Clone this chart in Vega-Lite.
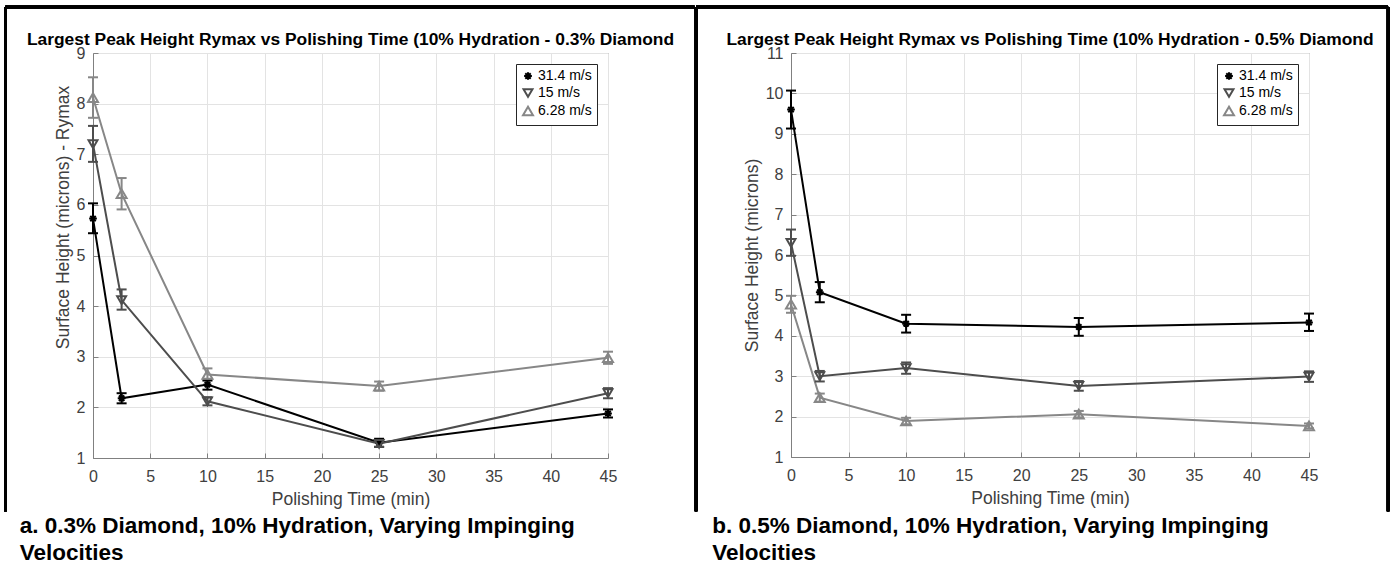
{
  "$schema": "https://vega.github.io/schema/vega-lite/v6.json",
  "padding": {"left": 3, "top": 5, "right": 0, "bottom": 0},
  "background": "white",
  "spacing": -3,
  "resolve": {"scale": {"color": "independent", "shape": "independent", "size": "independent"}, "legend": {"color": "independent"}},
  "datasets": {
    "a": [
      {"t": 0, "v": 5.73, "lo": 5.44, "hi": 6.03, "s": "31.4 m/s"},
      {"t": 2.5, "v": 2.18, "lo": 2.08, "hi": 2.28, "s": "31.4 m/s"},
      {"t": 10, "v": 2.45, "lo": 2.35, "hi": 2.53, "s": "31.4 m/s"},
      {"t": 25, "v": 1.30, "lo": 1.22, "hi": 1.38, "s": "31.4 m/s"},
      {"t": 45, "v": 1.88, "lo": 1.80, "hi": 1.96, "s": "31.4 m/s"},
      {"t": 0, "v": 7.20, "lo": 6.85, "hi": 7.56, "s": "15 m/s"},
      {"t": 2.5, "v": 4.12, "lo": 3.93, "hi": 4.33, "s": "15 m/s"},
      {"t": 10, "v": 2.12, "lo": 2.04, "hi": 2.20, "s": "15 m/s"},
      {"t": 25, "v": 1.28, "lo": 1.22, "hi": 1.34, "s": "15 m/s"},
      {"t": 45, "v": 2.28, "lo": 2.18, "hi": 2.38, "s": "15 m/s"},
      {"t": 0, "v": 8.12, "lo": 7.72, "hi": 8.52, "s": "6.28 m/s"},
      {"t": 2.5, "v": 6.22, "lo": 5.91, "hi": 6.53, "s": "6.28 m/s"},
      {"t": 10, "v": 2.65, "lo": 2.55, "hi": 2.77, "s": "6.28 m/s"},
      {"t": 25, "v": 2.42, "lo": 2.33, "hi": 2.51, "s": "6.28 m/s"},
      {"t": 45, "v": 2.98, "lo": 2.86, "hi": 3.10, "s": "6.28 m/s"}
    ],
    "b": [
      {"t": 0, "v": 9.60, "lo": 9.13, "hi": 10.07, "s": "31.4 m/s"},
      {"t": 2.5, "v": 5.08, "lo": 4.83, "hi": 5.33, "s": "31.4 m/s"},
      {"t": 10, "v": 4.30, "lo": 4.08, "hi": 4.52, "s": "31.4 m/s"},
      {"t": 25, "v": 4.22, "lo": 4.00, "hi": 4.44, "s": "31.4 m/s"},
      {"t": 45, "v": 4.33, "lo": 4.12, "hi": 4.55, "s": "31.4 m/s"},
      {"t": 0, "v": 6.30, "lo": 5.98, "hi": 6.63, "s": "15 m/s"},
      {"t": 2.5, "v": 3.00, "lo": 2.87, "hi": 3.13, "s": "15 m/s"},
      {"t": 10, "v": 3.20, "lo": 3.06, "hi": 3.34, "s": "15 m/s"},
      {"t": 25, "v": 2.76, "lo": 2.64, "hi": 2.88, "s": "15 m/s"},
      {"t": 45, "v": 2.99, "lo": 2.86, "hi": 3.12, "s": "15 m/s"},
      {"t": 0, "v": 4.78, "lo": 4.57, "hi": 4.99, "s": "6.28 m/s"},
      {"t": 2.5, "v": 2.47, "lo": 2.37, "hi": 2.57, "s": "6.28 m/s"},
      {"t": 10, "v": 1.89, "lo": 1.81, "hi": 1.97, "s": "6.28 m/s"},
      {"t": 25, "v": 2.06, "lo": 1.98, "hi": 2.14, "s": "6.28 m/s"},
      {"t": 45, "v": 1.77, "lo": 1.71, "hi": 1.83, "s": "6.28 m/s"}
    ]
  },
  "config": {
    "font": "Liberation Sans",
    "view": {"stroke": "#808080", "strokeWidth": 1},
    "axis": {
      "labelFont": "Liberation Sans", "titleFont": "Liberation Sans",
      "labelFontSize": 16, "titleFontSize": 17.5, "titleFontWeight": "normal",
      "labelColor": "#404040", "titleColor": "#404040",
      "domainColor": "#808080", "tickColor": "#808080", "gridColor": "#e3e3e3",
      "tickSize": -5, "labelPadding": 13
    },
    "axisX": {"labelPadding": 15, "titlePadding": 6},
    "title": {"font": "Liberation Sans", "fontSize": 17.4, "fontWeight": "bold", "color": "#000000", "frame": "group", "offset": -43}
  },
  "hconcat": [
    {
      "title": {"text": ["a. 0.3% Diamond, 10% Hydration, Varying Impinging", "Velocities"], "orient": "bottom", "anchor": "start", "frame": "bounds", "fontSize": 22.5, "lineHeight": 27, "offset": 2, "dx": 16},
      "resolve": {"scale": {"color": "independent", "shape": "independent", "size": "independent"}, "legend": {"color": "independent"}},
      "vconcat": [
        {
          "width": 515, "height": 405,
          "title": {"text": "Largest Peak Height Rymax vs Polishing Time (10% Hydration - 0.3% Diamond"},
          "data": {"name": "a"},
          "encoding": {
            "color": {"field": "s", "type": "nominal", "scale": {"domain": ["31.4 m/s", "15 m/s", "6.28 m/s"], "range": ["#000000", "#4d4d4d", "#878787"]},
              "legend": {"title": null, "orient": "top-right", "offset": 11, "strokeColor": "#262626", "fillColor": "white", "padding": 5, "labelFont": "Liberation Sans", "labelFontSize": 14, "labelColor": "#000000", "symbolStrokeWidth": 2, "rowPadding": 1, "labelOffset": 3}}
          },
          "layer": [
            {"mark": {"type": "line", "strokeWidth": 2}, "encoding": {
              "x": {"field": "t", "type": "quantitative", "scale": {"domain": [0, 45], "nice": false}, "axis": {"title": "Polishing Time (min)", "values": [0, 5, 10, 15, 20, 25, 30, 35, 40, 45], "labelFlush": false}},
              "y": {"field": "v", "type": "quantitative", "scale": {"domain": [1, 9], "nice": false}, "axis": {"title": "Surface Height (microns)  - Rymax", "values": [1, 2, 3, 4, 5, 6, 7, 8, 9], "titleY": 164}}
            }},
            {"mark": {"type": "rule", "strokeWidth": 2}, "encoding": {"x": {"field": "t", "type": "quantitative"}, "y": {"field": "lo", "type": "quantitative"}, "y2": {"field": "hi"}}},
            {"mark": {"type": "rule", "strokeWidth": 2, "xOffset": -5, "x2Offset": 5}, "encoding": {"x": {"field": "t", "type": "quantitative"}, "x2": {"field": "t"}, "y": {"field": "lo", "type": "quantitative"}}},
            {"mark": {"type": "rule", "strokeWidth": 2, "xOffset": -5, "x2Offset": 5}, "encoding": {"x": {"field": "t", "type": "quantitative"}, "x2": {"field": "t"}, "y": {"field": "hi", "type": "quantitative"}}},
            {"mark": {"type": "point", "filled": false, "strokeWidth": 2, "opacity": 1}, "encoding": {
              "x": {"field": "t", "type": "quantitative"},
              "y": {"field": "v", "type": "quantitative"},
              "shape": {"field": "s", "type": "nominal", "scale": {"domain": ["31.4 m/s", "15 m/s", "6.28 m/s"], "range": ["M-1,0H1M0,-1V1M-0.7,-0.7L0.7,0.7M-0.7,0.7L0.7,-0.7", "triangle-down", "triangle-up"]}, "legend": null},
              "size": {"field": "s", "type": "nominal", "scale": {"domain": ["31.4 m/s", "15 m/s", "6.28 m/s"], "range": [60, 100, 100]}, "legend": null}
            }},
            {"mark": {"type": "rule", "strokeWidth": 2.5}, "encoding": {"x": {"datum": -7.65, "type": "quantitative"}, "y": {"datum": -0.05, "type": "quantitative"}, "y2": {"datum": 9.91}, "color": {"value": "#000000"}}},
            {"mark": {"type": "rule", "strokeWidth": 2.5}, "encoding": {"x": {"datum": -7.65, "type": "quantitative"}, "x2": {"datum": 52.56}, "y": {"datum": 9.91, "type": "quantitative"}, "color": {"value": "#000000"}}}
          ]
        }
      ]
    },
    {
      "title": {"text": ["b. 0.5% Diamond, 10% Hydration, Varying Impinging", "Velocities"], "orient": "bottom", "anchor": "start", "frame": "bounds", "fontSize": 22.5, "lineHeight": 27, "offset": 2, "dx": 18},
      "resolve": {"scale": {"color": "independent", "shape": "independent", "size": "independent"}, "legend": {"color": "independent"}},
      "vconcat": [
        {
          "width": 518, "height": 404,
          "title": {"text": "Largest Peak Height Rymax vs Polishing Time (10% Hydration - 0.5% Diamond"},
          "data": {"name": "b"},
          "encoding": {
            "color": {"field": "s", "type": "nominal", "scale": {"domain": ["31.4 m/s", "15 m/s", "6.28 m/s"], "range": ["#000000", "#4d4d4d", "#878787"]},
              "legend": {"title": null, "orient": "top-right", "offset": 11, "strokeColor": "#262626", "fillColor": "white", "padding": 5, "labelFont": "Liberation Sans", "labelFontSize": 14, "labelColor": "#000000", "symbolStrokeWidth": 2, "rowPadding": 1, "labelOffset": 3}}
          },
          "layer": [
            {"mark": {"type": "line", "strokeWidth": 2}, "encoding": {
              "x": {"field": "t", "type": "quantitative", "scale": {"domain": [0, 45], "nice": false}, "axis": {"title": "Polishing Time (min)", "values": [0, 5, 10, 15, 20, 25, 30, 35, 40, 45], "labelFlush": false}},
              "y": {"field": "v", "type": "quantitative", "scale": {"domain": [1, 11], "nice": false}, "axis": {"title": "Surface Height (microns)", "values": [1, 2, 3, 4, 5, 6, 7, 8, 9, 10, 11]}}
            }},
            {"mark": {"type": "rule", "strokeWidth": 2}, "encoding": {"x": {"field": "t", "type": "quantitative"}, "y": {"field": "lo", "type": "quantitative"}, "y2": {"field": "hi"}}},
            {"mark": {"type": "rule", "strokeWidth": 2, "xOffset": -5, "x2Offset": 5}, "encoding": {"x": {"field": "t", "type": "quantitative"}, "x2": {"field": "t"}, "y": {"field": "lo", "type": "quantitative"}}},
            {"mark": {"type": "rule", "strokeWidth": 2, "xOffset": -5, "x2Offset": 5}, "encoding": {"x": {"field": "t", "type": "quantitative"}, "x2": {"field": "t"}, "y": {"field": "hi", "type": "quantitative"}}},
            {"mark": {"type": "point", "filled": false, "strokeWidth": 2, "opacity": 1}, "encoding": {
              "x": {"field": "t", "type": "quantitative"},
              "y": {"field": "v", "type": "quantitative"},
              "shape": {"field": "s", "type": "nominal", "scale": {"domain": ["31.4 m/s", "15 m/s", "6.28 m/s"], "range": ["M-1,0H1M0,-1V1M-0.7,-0.7L0.7,0.7M-0.7,0.7L0.7,-0.7", "triangle-down", "triangle-up"]}, "legend": null},
              "size": {"field": "s", "type": "nominal", "scale": {"domain": ["31.4 m/s", "15 m/s", "6.28 m/s"], "range": [60, 100, 100]}, "legend": null}
            }},
            {"mark": {"type": "rule", "strokeWidth": 2.5}, "encoding": {"x": {"datum": -8.25, "type": "quantitative"}, "y": {"datum": -0.34, "type": "quantitative"}, "y2": {"datum": 12.14}, "color": {"value": "#000000"}}},
            {"mark": {"type": "rule", "strokeWidth": 2.5}, "encoding": {"x": {"datum": 51.87, "type": "quantitative"}, "y": {"datum": -0.34, "type": "quantitative"}, "y2": {"datum": 12.14}, "color": {"value": "#000000"}}},
            {"mark": {"type": "rule", "strokeWidth": 2.5}, "encoding": {"x": {"datum": -8.25, "type": "quantitative"}, "x2": {"datum": 51.87}, "y": {"datum": 12.14, "type": "quantitative"}, "color": {"value": "#000000"}}}
          ]
        }
      ]
    }
  ]
}
